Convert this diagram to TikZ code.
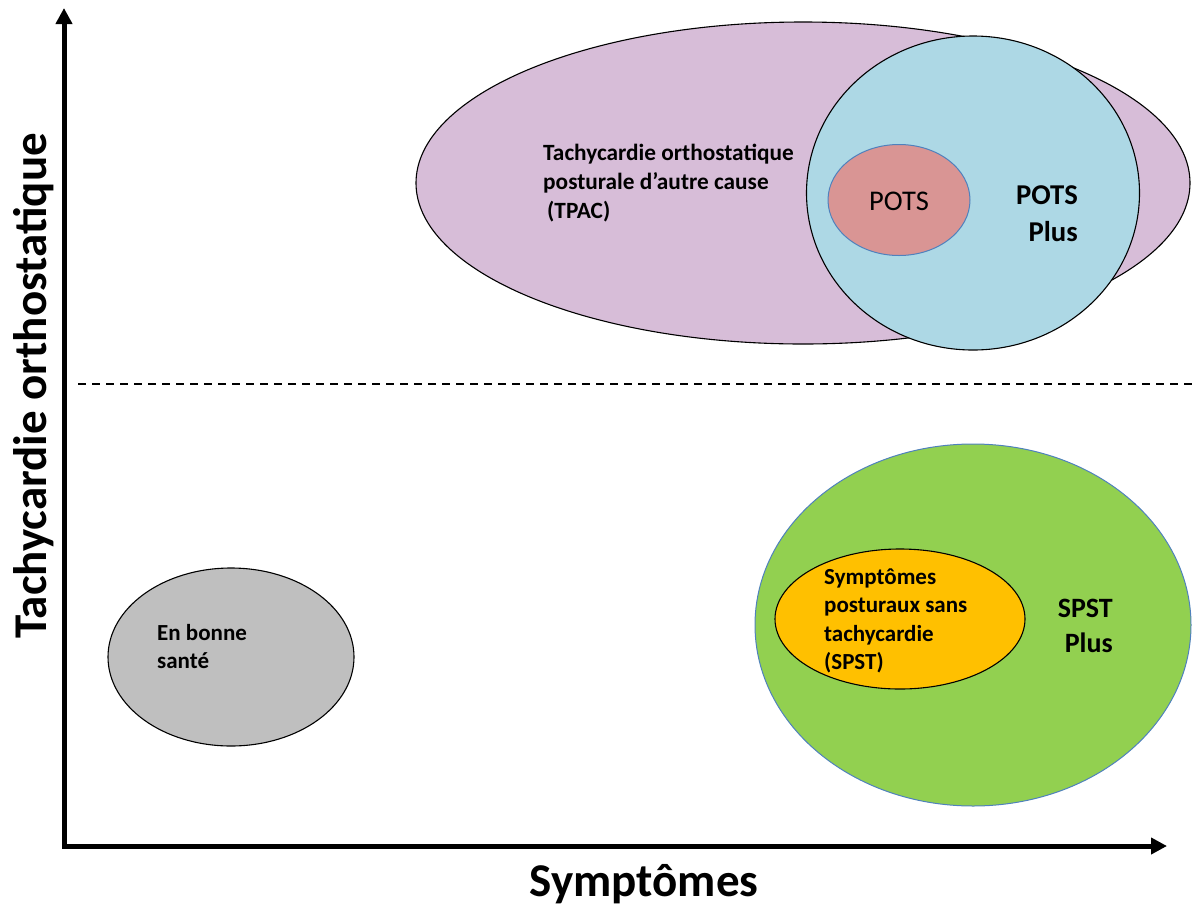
\documentclass[tikz,border=0pt]{standalone}
\usepackage{fontspec}
\setmainfont{Carlito}
\usetikzlibrary{shapes.geometric,arrows.meta}
\definecolor{tpacfill}{HTML}{D7BDD8}
\definecolor{plusfill}{HTML}{ADD8E5}
\definecolor{potsfill}{HTML}{D99594}
\definecolor{greenfill}{HTML}{92D050}
\definecolor{yellowfill}{HTML}{FFC000}
\definecolor{grayfill}{HTML}{BFBFBF}
\definecolor{blueline}{HTML}{4F81BD}
\begin{document}
\begin{tikzpicture}[x=1pt,y=-1pt,
  blob/.style={ellipse, inner sep=0pt, draw=black, line width=1.1pt},
  blueblob/.style={ellipse, inner sep=0pt, draw=blueline, line width=1pt},
  txt/.style={inner sep=0pt, font=\bfseries\fontsize{23.3}{29}\selectfont, align=left},
  axis/.style={line width=5pt, {Triangle[length=16pt,width=16pt]}-{Triangle[length=16pt,width=16pt]}},
  axlabel/.style={inner sep=0pt, font=\bfseries\fontsize{47}{56}\selectfont}]
\useasboundingbox (0,0) rectangle (1192,906);

% axes
\coordinate (ytop) at (64,8);
\coordinate (origin) at (64,846);
\coordinate (xend) at (1167,846);
\draw[axis] (ytop) -- (origin) -- (xend);
\node[axlabel, rotate=90] (ylab) at (34,386) {Tachycardie orthostatique};
\node[axlabel] (xlab) at (644,884) {Symptômes};

% dashed separator
\coordinate (dl) at (78,384);
\coordinate (dr) at (1192,384);
\draw[line width=1.4pt, dash pattern=on 8pt off 6pt] (dl) -- (dr);

% upper group
\node[blob, fill=tpacfill, minimum width=774pt, minimum height=322pt] (tpac) at (803,183) {};
\node[blob, fill=plusfill, minimum width=333pt, minimum height=314pt] (potsplus) at (973,193) {};
\node[blueblob, fill=potsfill, minimum width=142pt, minimum height=111pt] (pots) at (899,200) {};
\node[txt, anchor=west] (tpactxt) at (543,183) {Tachycardie orthostatique\\posturale d’autre cause\\\hspace{4pt}(TPAC)};
\node[inner sep=0pt, font=\fontsize{28.5}{34}\selectfont] (potstxt) at (899,201) {POTS};
\node[inner sep=0pt, font=\bfseries\fontsize{28.7}{37}\selectfont, align=right, anchor=east] (potsplustxt) at (1078,214) {POTS\\Plus};

% lower right group
\node[blueblob, fill=greenfill, minimum width=436pt, minimum height=362pt] (spstplus) at (973,625) {};
\node[blob, fill=yellowfill, minimum width=250pt, minimum height=140pt] (spst) at (900,619) {};
\node[txt, anchor=west, font=\bfseries\fontsize{23}{28.3}\selectfont] (spsttxt) at (824,621) {Symptômes\\posturaux sans\\tachycardie\\(SPST)};
\node[inner sep=0pt, font=\bfseries\fontsize{28}{35}\selectfont, align=right, anchor=east] (spstplustxt) at (1113,626) {SPST\\Plus};

% healthy
\node[blob, fill=grayfill, minimum width=246pt, minimum height=178pt] (sante) at (231,657) {};
\node[txt, anchor=west, font=\bfseries\fontsize{23}{28}\selectfont] (santetxt) at (157,647) {En bonne\\santé};
\end{tikzpicture}
\end{document}
